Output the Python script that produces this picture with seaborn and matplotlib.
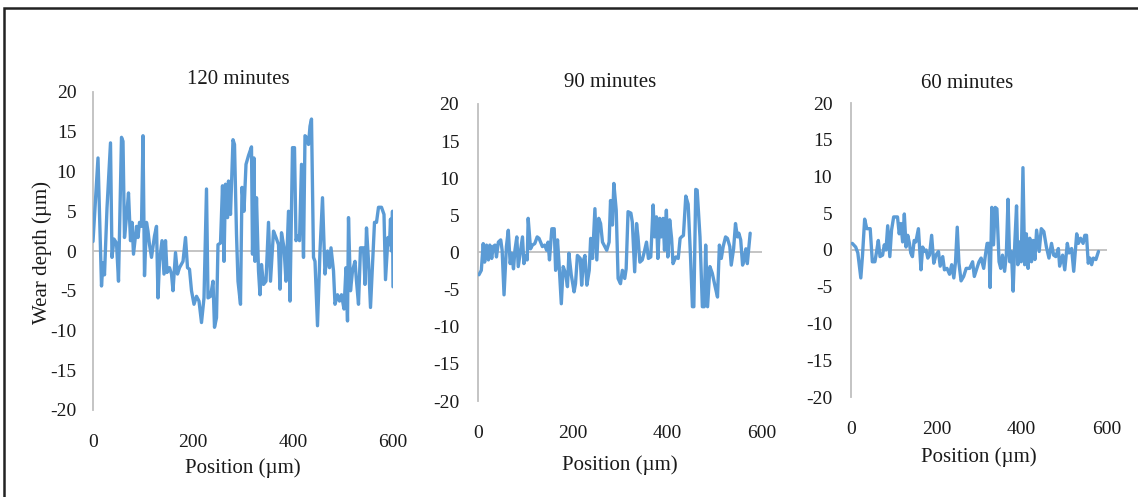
import numpy as np
import pandas as pd
import matplotlib
matplotlib.use("Agg")
import matplotlib.pyplot as plt
from matplotlib.patches import Rectangle
import seaborn as sns

# ---------------- data ----------------
titles = ["120 minutes", "90 minutes", "60 minutes"]
x_ticks = [0, 200, 400, 600]
y_ticks = [-20, -15, -10, -5, 0, 5, 10, 15, 20]

pos_120 = [0, 10, 17, 20, 23, 28, 35, 38, 42, 47, 51, 57, 60, 63, 68, 71, 75, 78, 81, 87,
           90, 93, 97, 100, 103, 107, 110, 113, 117, 123, 127, 130, 133, 138, 142, 145, 148, 153, 157, 160,
           165, 169, 173, 180, 185, 189, 193, 197, 202, 207, 212, 217, 222, 227, 230, 235, 240, 243, 247, 250,
           255, 259, 262, 265, 269, 271, 275, 280, 283, 287, 290, 295, 298, 302, 306,
           311, 317, 319, 322, 324, 327, 331, 334, 337, 341, 346, 351, 355, 361, 366, 371, 374, 377, 382, 386,
           391, 394, 399, 403, 406, 409, 413, 417, 421, 424, 427, 431, 434, 437, 441, 444, 449, 454, 459, 464,
           469, 473, 476, 481, 484, 489, 493, 497, 502, 506, 509, 511, 515, 519, 524, 527, 531, 535, 541, 544,
           547, 551, 555, 559, 563, 567, 571, 577, 582, 585, 590, 593, 595, 597, 599, 600]
dep_120 = [1.2, 11.7, -4.4, -1.5, -3.0, 5.4, 13.6, -0.8, 1.5, 1.0, -3.8, 14.3, 13.8, 1.7, 5.0, 7.3, 1.3, 3.6, -0.4, 3.1,
           1.7, 3.6, 3.1, 14.5, -3.1, 3.6, 2.5, 0.8, -0.8, 1.9, 3.1, -5.9, -1.3, 1.3, -2.9, 1.3, -2.7, -2.1, -2.9, -5.0,
           -0.2, -2.9, -2.1, -1.3, 1.7, -2.1, -2.3, -5.0, -6.7, -5.7, -6.3, -9.0, -5.9, 7.8, -5.9, -5.7, -3.8, -9.6, -8.4, 0.8,
           1.0, 8.2, -1.3, 8.4, 4.2, 8.8, 4.6, 14.0, 13.4, 2.1, -3.8, -6.7, 8.0, 5.0, 10.9,
           12.0, 13.1, -0.4, 11.7, -1.3, 6.7, -2.5, -5.5, -1.7, -4.2, -3.8, 3.6, -3.8, 2.5, 1.7, 0.8, -4.8, 2.3, 0.4, -3.8,
           5.0, -6.3, 13.0, 13.0, 1.3, 1.9, 1.3, 10.9, -0.8, 14.5, 14.3, 13.4, 15.7, 16.6, -0.8, -1.3, -9.4, 0.0, 6.7, -2.9,
           0.0, -2.1, 0.4, -2.5, -6.7, -5.5, -6.3, -5.5, -7.3, -2.1, -8.8, 4.2, -5.0, -2.5, -1.3, -3.8, -6.7, 0.4, 0.4, -4.2,
           2.9, -1.3, -7.1, -1.7, 3.6, 3.6, 5.5, 5.5, 4.6, -3.6, 1.7, 0.8, 4.0, 0.0, 5.0, -4.5]

pos_90 = [2, 7, 11, 14, 18, 22, 25, 29, 32, 36, 39, 43, 48, 51, 55, 60, 64, 68, 71, 75,
          78, 82, 85, 89, 94, 97, 101, 104, 106, 111, 115, 120, 125, 129, 136, 141, 145, 148, 151, 156,
          161, 164, 168, 171, 176, 180, 185, 189, 192, 197, 203, 206, 210, 216, 219, 223, 226, 230, 235, 238,
          242, 247, 251, 255, 259, 263, 268, 272, 277, 280, 284, 287, 292, 296,
          301, 305, 310, 313, 317, 323, 326, 331, 335, 338, 342, 347, 351, 356, 360, 365, 370, 373, 377, 380,
          384, 387, 391, 394, 398, 401, 405, 409, 412, 418, 423, 427, 430, 434, 439, 444, 449, 453, 456, 460,
          463, 469, 474, 478, 481, 485, 490, 495, 501, 506, 510, 514, 518, 523, 527, 532, 535, 540, 544, 548,
          551, 555, 559, 562, 566, 569, 575]
dep_90 = [-3.0, -2.4, 1.2, -1.3, 1.0, -1.0, 1.0, -0.8, 0.8, 1.0, -0.6, 1.4, 1.7, 0.3, -5.7, 0.8, 3.0, -1.5, -0.1, -2.2,
          0.3, 2.1, -1.9, -0.1, 2.1, -1.5, -0.4, -1.0, 4.6, 0.5, 1.0, 1.2, 2.1, 1.9, 0.8, 1.0, 0.3, 1.4, -1.0, 3.2,
          3.2, -2.4, 1.7, -1.3, -6.9, -1.9, -2.8, -4.6, -0.1, -3.0, -5.3, -4.2, -0.4, -0.8, -4.4, -1.0, -0.4, -4.4, -2.4, 1.9,
          -0.8, 5.9, -1.0, 4.6, 3.9, 1.4, 0.8, 0.3, 1.4, 7.0, 3.7, 9.3, 5.7, -3.5,
          -4.2, -2.4, -3.5, -2.2, 5.5, 5.3, 4.1, -2.6, 3.9, 2.1, -1.3, -1.0, 0.0, 1.4, -0.8, -0.6, 6.4, 2.1, 4.8, -0.8,
          4.6, 2.1, 4.6, 0.3, 5.7, -0.6, 4.4, 1.9, -1.5, -0.6, -0.8, 1.9, 2.1, 2.3, 7.6, 6.5, -0.6, -7.3, -7.3, 8.5,
          8.4, 2.1, -7.3, -7.3, 1.0, -7.3, -1.9, -2.8, -4.6, -6.0, 1.0, -0.8, 0.8, 2.1, 1.9, 0.8, -1.7, 0.5, 3.9, 2.1,
          2.6, 1.7, -1.7, -1.0, 0.5, -1.5, 2.6]

pos_60 = [3, 11, 16, 23, 27, 32, 37, 45, 50, 56, 60, 64, 68, 74, 78, 82, 86, 91, 95, 100,
          105, 109, 113, 117, 121, 125, 129, 133, 137, 140, 144, 148, 152, 158, 164, 168, 172, 176, 180, 184,
          189, 194, 199, 205, 209, 215, 219, 225, 231, 236, 241, 245, 249, 253, 258, 264, 270, 278, 285,
          289, 295, 300, 305, 311, 315, 319, 323, 326, 330, 334, 338, 342, 347, 351, 355, 360, 364, 368, 372,
          376, 380, 384, 388, 391, 395, 399, 403, 407, 411, 415, 419, 423, 427, 431, 435, 441, 446, 452, 458,
          464, 470, 475, 480, 486, 489, 496, 501, 507, 511, 517, 522, 529, 533, 538, 544, 548, 552, 556, 560,
          564, 568, 574, 580]
dep_60 = [0.9, 0.4, -0.4, -3.8, -0.7, 4.2, 2.9, 2.9, -1.6, -1.6, -0.2, 1.3, -0.9, -0.7, 0.7, 0.0, 3.3, -0.9, 2.7, 4.5,
          4.5, 4.5, 2.2, 3.6, 1.1, 4.9, 0.4, 2.0, 0.9, -0.4, -0.9, 1.3, 1.1, 2.9, -2.7, 0.4, -0.2, 0.0, -1.1, -0.7,
          2.0, -1.8, -0.7, -0.2, -2.2, -0.9, -2.7, -2.5, -3.3, -2.0, -3.8, -1.6, 3.1, -1.8, -4.2, -3.6, -2.5, -2.5, -1.6,
          -3.6, -2.5, -1.6, -1.1, -2.5, -0.7, 0.9, 0.9, -5.1, 5.8, 0.7, 5.8, 5.6, -1.6, -2.5, -0.7, -2.9, -0.7, 6.9, -1.6,
          -0.2, -5.6, 1.1, 6.0, -2.0, 1.1, -1.6, 11.2, -2.0, 2.2, -2.5, 1.6, -1.6, 1.3, -1.3, 2.7, -0.2, 2.9, 2.5, 0.4,
          -1.1, 0.9, -0.7, -0.9, 0.2, -2.2, -0.7, -2.7, 0.9, -0.4, 0.2, -2.9, 2.2, 0.9, 1.6, 0.9, 2.0, 2.0, -1.8, -1.1,
          -2.0, -1.1, -1.3, -0.2]

series = [(pos_120, dep_120), (pos_90, dep_90), (pos_60, dep_60)]

# ---------------- style ----------------
sns.set_style("white")
plt.rcParams["font.family"] = ["Liberation Serif", "DejaVu Serif"]
LINE = "#5B9BD5"
AXC = "#BFBFBF"
TXT = "#1a1a1a"

W, H = 1138, 497
fig = plt.figure(figsize=(W / 100, H / 100), dpi=100)

# axes boxes in pixels: left, right, top(y=20), bottom(y=-20)
boxes = [(93, 393, 92, 410), (478, 762, 104, 401), (851, 1107, 103, 397)]
title_x = [0.483, 0.465, 0.453]
title_pad = [6, 12, 11]
ytick_len = [0, 3.5, 3.5]
xlab_y = [468, 465, 457]

for i, ((px, py), (l, r, t, b)) in enumerate(zip(series, boxes)):
    ax = fig.add_axes([l / W, 1 - b / H, (r - l) / W, (b - t) / H])
    df = pd.DataFrame({"Position": px, "Depth": py})
    ax.axhline(0, color=AXC, lw=1.3, zorder=1)
    sns.lineplot(data=df, x="Position", y="Depth", ax=ax, color=LINE, lw=2.4,
                 sort=False, estimator=None, zorder=3)
    ax.set_xlim(0, 600)
    ax.set_ylim(-20, 20)
    ax.set_xticks(x_ticks)
    ax.set_xticklabels([str(v) for v in x_ticks])
    ax.set_yticks(y_ticks)
    ax.set_yticklabels([str(v) for v in y_ticks])
    for s in ["top", "right", "bottom"]:
        ax.spines[s].set_visible(False)
    ax.spines["left"].set_color(AXC)
    ax.spines["left"].set_linewidth(1.3)
    ax.tick_params(axis="x", length=0, pad=17, labelsize=14, colors=TXT)
    ax.tick_params(axis="y", length=ytick_len[i], width=1.1, color=AXC, direction="out",
                   pad=12 if i == 0 else 10, labelsize=14, labelcolor=TXT)
    ax.set_xlabel("")
    ax.set_ylabel("")
    ax.set_title(titles[i], x=title_x[i], pad=title_pad[i], fontsize=15, color=TXT)
    fig.text(((l + r) / 2) / W, 1 - xlab_y[i] / H, "Position (µm)", ha="center", va="center",
             fontsize=15, color=TXT)
    ax.set_facecolor("none")

fig.text(42 / W, 1 - 252 / H, "Wear depth (µm)", rotation=90, ha="center", va="center",
         fontsize=15, color=TXT)

# outer frame
fig.add_artist(Rectangle((3.5 / W, -0.05), 1.2, 1 - 8 / H + 0.05, transform=fig.transFigure,
                         fill=False, edgecolor="#222222", lw=1.8))

fig.savefig("out.png", dpi=100, facecolor="white")
